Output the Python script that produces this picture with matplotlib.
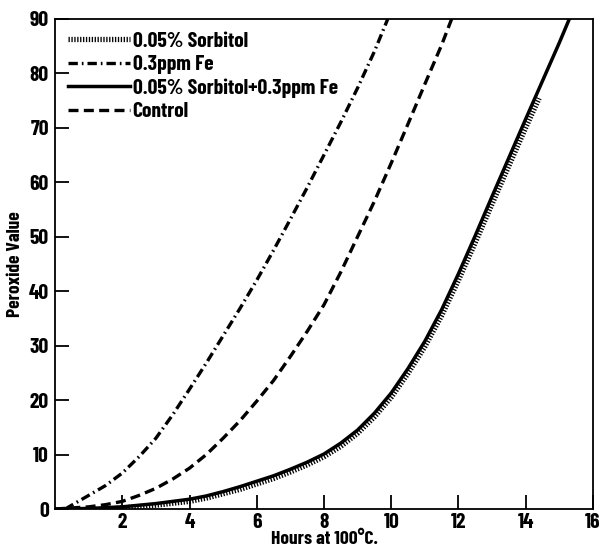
"""Peroxide value vs hours at 100 C for sorbitol / iron treatments."""

import matplotlib
matplotlib.use("Agg")
import matplotlib.pyplot as plt

plt.rcParams["font.family"] = ["Barlow Condensed", "DejaVu Sans"]
plt.rcParams["font.weight"] = "bold"

# %% Data
hours_fe = [0.3, 1, 1.5, 2, 2.5, 3, 3.5, 4, 4.5, 5, 5.5, 6, 6.5, 7, 7.5,
            8, 8.5, 9, 9.5, 9.9]
pv_fe = [0, 2.5, 4.3, 6.6, 9.6, 13, 17.3, 22, 26.8, 31.8, 36.8, 42, 47.5,
         53.2, 59, 65, 71, 77.3, 84, 90]

hours_ctrl = [0, 1, 1.5, 2, 2.5, 3, 3.5, 4, 4.5, 5, 5.5, 6, 6.5, 7, 7.5,
              8, 8.5, 9, 9.5, 10, 10.5, 11, 11.5, 11.8]
pv_ctrl = [0, 0.4, 0.8, 1.4, 2.5, 3.8, 5.5, 7.5, 10, 13, 16.2, 19.8, 23.6,
           28, 32.6, 37.5, 43.5, 50, 56.5, 63.5, 70.7, 78, 85.2, 90]

hours_mix = [0, 1, 2, 3, 4, 4.5, 5, 5.5, 6, 6.5, 7, 7.5, 8, 8.5, 9, 9.5,
             10, 10.5, 11, 11.5, 12, 12.5, 13, 13.5, 14, 14.5, 15, 15.3]
pv_mix = [0, 0.1, 0.4, 1.0, 1.8, 2.4, 3.2, 4.1, 5.1, 6.1, 7.3, 8.6, 10.1,
          12.1, 14.5, 17.6, 21.3, 25.8, 30.8, 36.6, 43.2, 50.2, 57.4, 64.5,
          71.6, 78.6, 85.6, 90]

hours_sorb = [1.5, 2, 3, 4, 4.5, 5, 5.5, 6, 6.5, 7, 7.5, 8, 8.5, 9, 9.5,
              10, 10.5, 11, 11.5, 12, 12.5, 13, 13.5, 14, 14.4]
pv_sorb = [0, 0.2, 0.7, 1.4, 2.0, 2.8, 3.6, 4.6, 5.6, 6.8, 8.1, 9.6, 11.5,
           13.9, 16.9, 20.5, 24.9, 29.8, 35.5, 42, 48.9, 56, 63, 70, 75.4]

x_ticks = [2, 4, 6, 8, 10, 12, 14, 16]
y_ticks = [0, 10, 20, 30, 40, 50, 60, 70, 80, 90]

# %% Plot
fig = plt.figure(figsize=(6.02, 5.5), dpi=100)
ax = fig.add_axes([0.0914, 0.0745, 0.8936, 0.8915])

ax.plot(hours_sorb, pv_sorb, color="black", lw=3.8,
        linestyle=(0, (0.25, 0.3)), label="0.05% Sorbitol")
ax.plot(hours_fe, pv_fe, color="black", lw=2.4,
        linestyle=(0, (2.8, 1.2, 0.5, 1.2)), label="0.3ppm Fe")
ax.plot(hours_mix, pv_mix, color="black", lw=2.5,
        label="0.05% Sorbitol+0.3ppm Fe")
ax.plot(hours_ctrl, pv_ctrl, color="black", lw=2.4,
        linestyle=(0, (3, 1.6)), label="Control")

ax.set_xlim(0, 16)
ax.set_ylim(0, 90)
ax.set_xticks(x_ticks)
ax.set_yticks(y_ticks)
ax.tick_params(direction="in", length=10, width=1.3, labelsize=15.5,
               colors="black")
ax.tick_params(axis="x", pad=3)
ax.tick_params(axis="y", pad=4.5)
for s in ax.spines.values():
    s.set_linewidth(1.3)

ax.set_xlabel("Hours at 100°C.", fontsize=14, fontweight="bold", labelpad=-1)
ax.set_ylabel("Peroxide Value", fontsize=14, fontweight="bold", labelpad=3)

ax.legend(loc="upper left", frameon=False, fontsize=15.5,
          handlelength=2.9, handletextpad=0.1, labelspacing=0.2,
          borderaxespad=0.2, borderpad=0.4)

fig.savefig("out.png", dpi=100)
plt.close(fig)
